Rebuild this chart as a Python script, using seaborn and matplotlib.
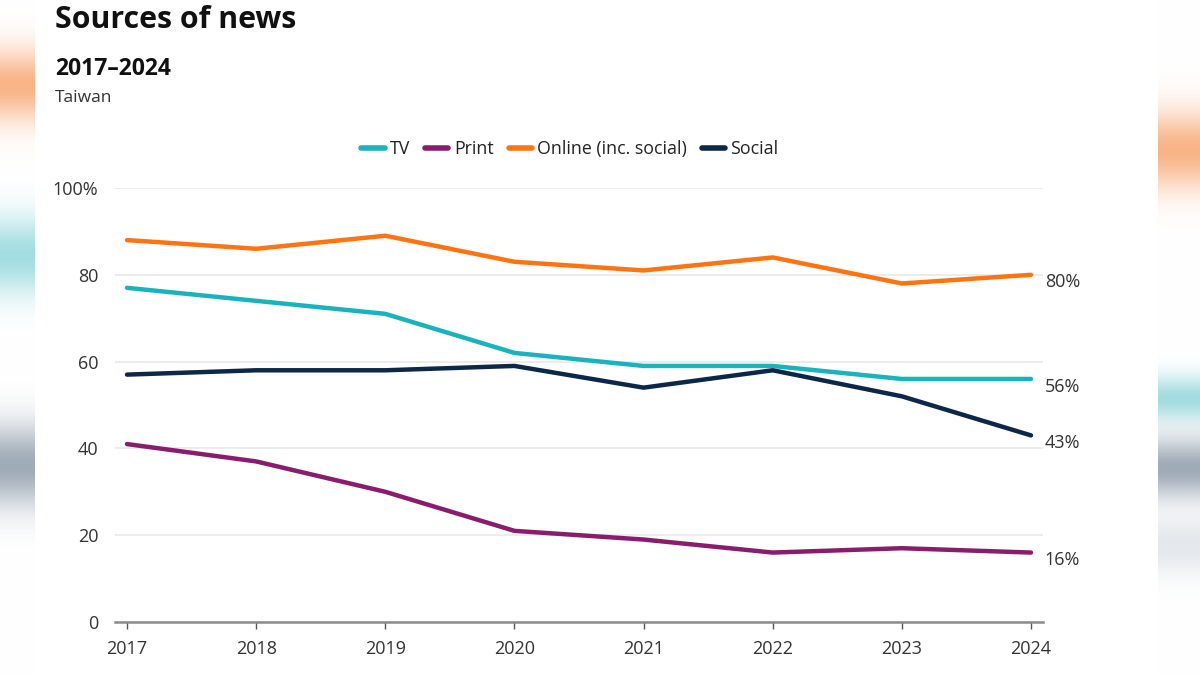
import numpy as np
import pandas as pd
import matplotlib.pyplot as plt
import seaborn as sns

# ----------------------------------------
# Data
# ----------------------------------------
years = [2017, 2018, 2019, 2020, 2021, 2022, 2023, 2024]
tv = [77, 74, 71, 62, 59, 59, 56, 56]
print_ = [41, 37, 30, 21, 19, 16, 17, 16]
online = [88, 86, 89, 83, 81, 84, 78, 80]
social = [57, 58, 58, 59, 54, 58, 52, 43]

series_names = ["TV", "Print", "Online (inc. social)", "Social"]
series_values = [tv, print_, online, social]
colors = ["#19b3bd", "#8a1c6d", "#ff7411", "#0d2748"]

df = pd.DataFrame({
    "year": np.tile(years, len(series_names)),
    "value": np.concatenate(series_values),
    "source": np.repeat(series_names, len(years)),
})

sns.set_theme(style="white")
plt.rcParams["font.family"] = ["Open Sans", "DejaVu Sans"]

fig = plt.figure(figsize=(12, 6.75), dpi=100)

# ----------------------------------------
# Blurred side strips (background decoration)
# ----------------------------------------
def side_strip(x0, x1, blobs):
    sax = fig.add_axes([x0 / 1200, 0, (x1 - x0) / 1200, 1])
    rows = np.arange(675)[:, None]
    img = np.ones((675, 1, 3))
    for center, half, col in blobs:
        w = np.exp(-((rows - center) / half) ** 2)[:, :, None]
        rgb = np.array(plt.matplotlib.colors.to_rgb(col))[None, None, :]
        img = img * (1 - w) + rgb * w
    sax.imshow(img, aspect="auto", interpolation="bilinear")
    sax.axis("off")

side_strip(0, 35, [(85, 35, "#f8b487"), (255, 38, "#a3dde1"), (465, 40, "#a0abb8")])
side_strip(1158, 1200, [(150, 38, "#f8b487"), (398, 22, "#a3dde1"), (468, 30, "#a0abb8"),
                        (545, 30, "#e4e8ec")])

# ----------------------------------------
# Main chart
# ----------------------------------------
ax = fig.add_axes([115 / 1200, 53 / 675, 928 / 1200, 434 / 675])

sns.lineplot(
    data=df,
    x="year",
    y="value",
    hue="source",
    hue_order=series_names,
    palette=dict(zip(series_names, colors)),
    linewidth=3.2,
    ax=ax,
    legend=False,
)

ax.set_xlim(2016.907, 2024.093)
ax.set_ylim(0, 100)
ax.set_xticks(years)
ax.set_xticklabels([str(y) for y in years])
ax.set_yticks([0, 20, 40, 60, 80, 100])
ax.set_yticklabels(["0", "20", "40", "60", "80", "100%"])
ax.set_xlabel("")
ax.set_ylabel("")

ax.grid(axis="y", color="#e9e9e9", linewidth=1.2)
ax.set_axisbelow(True)
for side in ["top", "right", "left"]:
    ax.spines[side].set_visible(False)
ax.spines["bottom"].set_color("#8c8c8c")
ax.spines["bottom"].set_linewidth(1.8)

ax.tick_params(axis="x", length=5, width=1, color="#555555", pad=8,
               labelsize=13, labelcolor="#333333", direction="out", bottom=True)
ax.tick_params(axis="y", length=0, pad=12, labelsize=13, labelcolor="#333333")

# End labels
for vals in series_values:
    ax.annotate(
        f"{vals[-1]}%",
        xy=(years[-1], vals[-1]),
        xytext=(10, -5.5),
        textcoords="offset points",
        va="center",
        ha="left",
        fontsize=13,
        color="#333333",
        annotation_clip=False,
    )

# Legend
handles = [plt.Line2D([0], [0], color=c, linewidth=4, solid_capstyle="round")
           for c in colors]
fig.legend(
    handles,
    series_names,
    loc="center",
    bbox_to_anchor=(570 / 1200, 1 - 149 / 675),
    ncol=4,
    frameon=False,
    fontsize=12.8,
    handlelength=1.3,
    handletextpad=0.3,
    columnspacing=0.85,
    labelcolor="#222222",
)

# Titles
fig.text(55 / 1200, 1 - 20 / 675, "Sources of news", fontsize=21.8, fontweight="bold",
         color="#111111", va="center", ha="left")
fig.text(55 / 1200, 1 - 69 / 675, "2017–2024", fontsize=16.5, fontweight="bold",
         color="#111111", va="center", ha="left")
fig.text(55 / 1200, 1 - 98 / 675, "Taiwan", fontsize=12.5,
         color="#333333", va="center", ha="left")

plt.savefig("out.png", dpi=100)
plt.close()
